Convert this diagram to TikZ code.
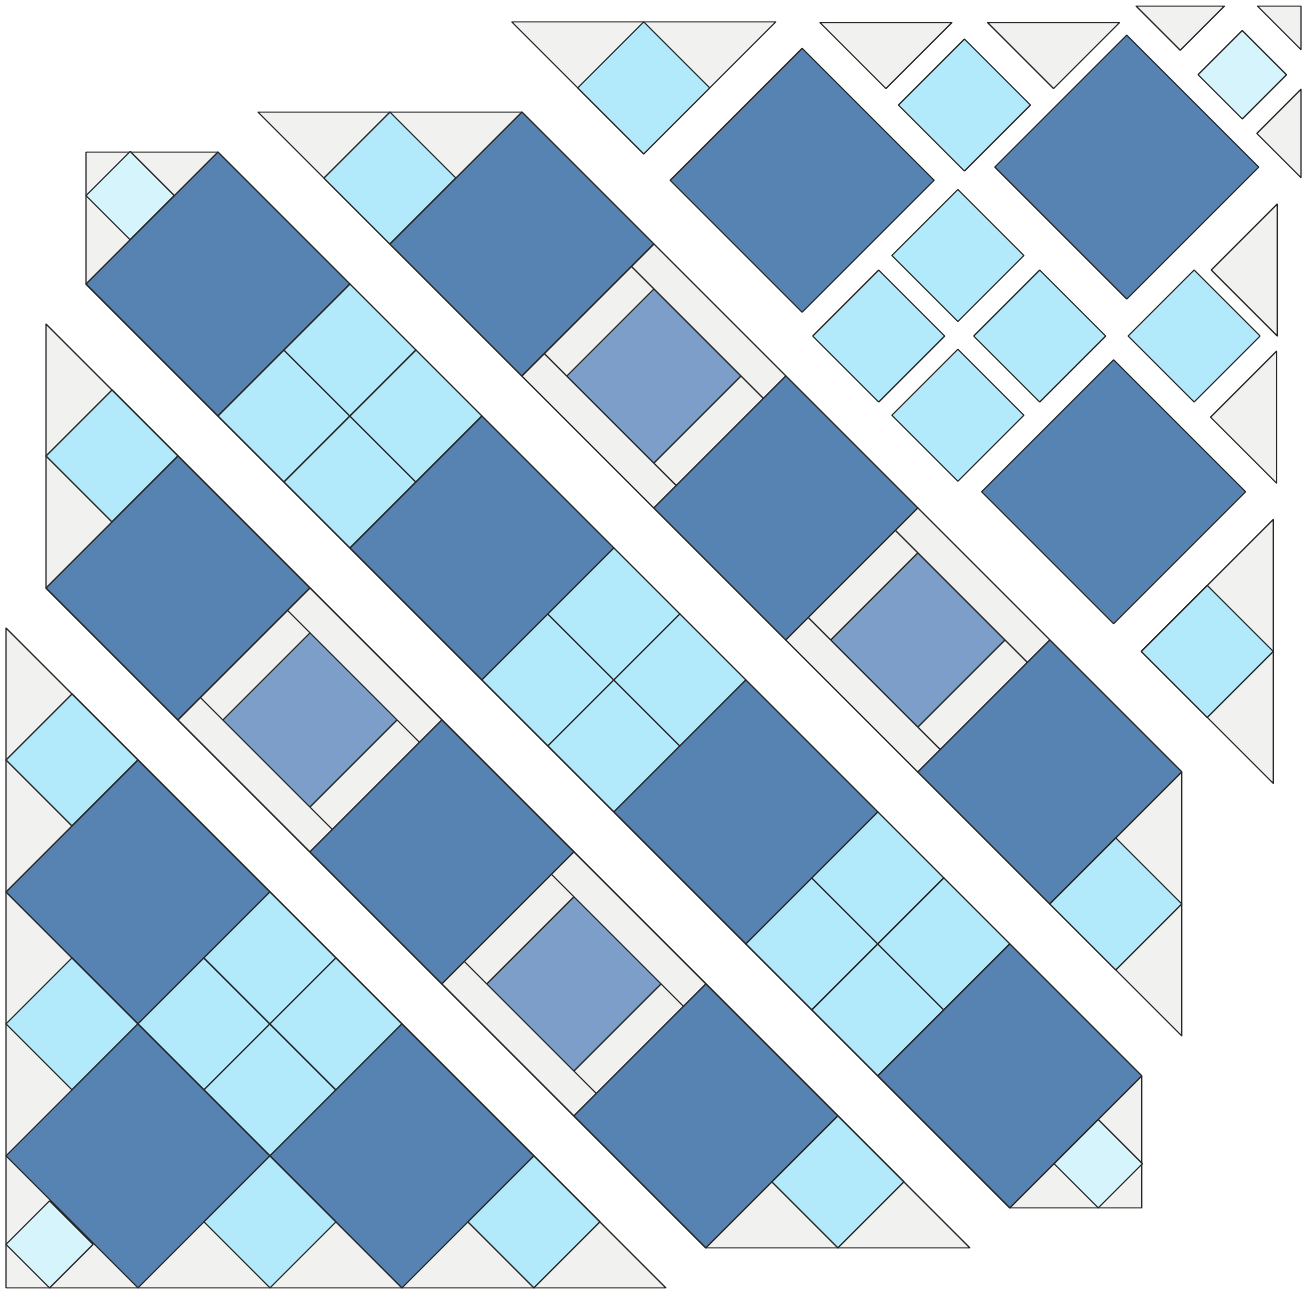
\documentclass[tikz,border=0pt]{standalone}
\usepackage{tikz}
\definecolor{quiltdark}{RGB}{87,131,178}
\definecolor{quiltlight}{RGB}{178,234,252}
\definecolor{quiltpale}{RGB}{214,244,252}
\definecolor{quiltmid}{RGB}{124,158,200}
\definecolor{quiltgray}{RGB}{241,241,240}
\newcommand{\blk}[4]{\draw[#1] (#2,#3) -- ++(#4,0) -- ++(0,#4) -- ++(-#4,0) -- cycle;}
\newcommand{\fourblk}[2]{\blk{lt}{#1}{#2}{1}\blk{lt}{#1+1}{#2}{1}\blk{lt}{#1}{#2+1}{1}\blk{lt}{#1+1}{#2+1}{1}}
\newcommand{\frameblk}[2]{\blk{bg}{#1}{#2}{2}\blk{md}{#1+0.34}{#2+0.34}{1.32}
  \draw[piece] (#1,#2+0.34) -- ++(0.34,0) (#1,#2+1.66) -- ++(0.34,0)
    (#1+1.66,#2+0.34) -- ++(0.34,0) (#1+1.66,#2+1.66) -- ++(0.34,0);}

\begin{document}
\begin{tikzpicture}[x=0.02cm,y=-0.02cm,
  piece/.style={draw=black!85,line width=0.65pt,line join=round},
  bg/.style={piece,fill=quiltgray},
  dk/.style={piece,fill=quiltdark},
  lt/.style={piece,fill=quiltlight},
  pl/.style={piece,fill=quiltpale},
  md/.style={piece,fill=quiltmid},
  diag/.style={x={(1.32cm,-1.32cm)},y={(1.32cm,1.32cm)}}]
\useasboundingbox (0,0) rectangle (1304,1291);

% bottom left corner row
\begin{scope}[shift={(6,628)},diag]
\draw[bg] (0,0) -- (10,0) -- (5,-5) -- cycle;
\blk{lt}{1}{-1}{1}\blk{dk}{2}{-2}{2}\fourblk{4}{-2}\blk{dk}{6}{-2}{2}\blk{lt}{8}{-1}{1}
\blk{lt}{3}{-3}{1}\blk{dk}{4}{-4}{2}\blk{lt}{6}{-3}{1}
\blk{pl}{4.67}{-4.67}{0.66}
\end{scope}

\begin{scope}[shift={(46,588)},diag]
\draw[bg] (-2,2) -- (12,2) -- (10,0) -- (0,0) -- cycle;
\blk{lt}{-1}{1}{1}
\blk{dk}{0}{0}{2}\frameblk{2}{0}\blk{dk}{4}{0}{2}\frameblk{6}{0}\blk{dk}{8}{0}{2}
\blk{lt}{10}{1}{1}
\end{scope}

% middle row
\begin{scope}[shift={(86,548)},diag]
\draw[bg] (-3,3) -- (-2,4) -- (12,4) -- (13,3) -- (12,2) -- (-2,2) -- cycle;
\blk{pl}{-2.67}{2.67}{0.67}
\blk{dk}{-2}{2}{2}\fourblk{0}{2}\blk{dk}{2}{2}{2}\fourblk{4}{2}\blk{dk}{6}{2}{2}\fourblk{8}{2}\blk{dk}{10}{2}{2}
\blk{pl}{12}{2.67}{0.67}
\end{scope}

\begin{scope}[shift={(126,508)},diag]
\draw[bg] (-2,4) -- (0,6) -- (10,6) -- (12,4) -- cycle;
\blk{lt}{-1}{4}{1}
\blk{dk}{0}{4}{2}\frameblk{2}{4}\blk{dk}{4}{4}{2}\frameblk{6}{4}\blk{dk}{8}{4}{2}
\blk{lt}{10}{4}{1}
\end{scope}

% top right corner, pieces apart
\begin{scope}[shift={(166,468)},diag]
\begin{scope}[shift={(-0.76,0)}]
\draw[bg] (0,6) -- (2,6) -- (2,8) -- cycle;
\blk{lt}{1}{6}{1}
\end{scope}
\begin{scope}[shift={(-0.36,0)}]\blk{dk}{2}{6}{2}\end{scope}
\begin{scope}[shift={(-0.1,-0.1)}]\blk{lt}{4}{6}{1}\end{scope}
\begin{scope}[shift={(0.1,-0.1)}]\blk{lt}{5}{6}{1}\end{scope}
\begin{scope}[shift={(-0.11,0.11)}]\blk{lt}{4}{7}{1}\end{scope}
\begin{scope}[shift={(0.12,0.12)}]\blk{lt}{5}{7}{1}\end{scope}
\begin{scope}[shift={(0.36,0)}]\blk{dk}{6}{6}{2}\end{scope}
\begin{scope}[shift={(0.78,0)}]
\draw[bg] (8,6) -- (10,6) -- (8,8) -- cycle;
\blk{lt}{8}{6}{1}
\end{scope}
\begin{scope}[shift={(-0.42,0.33)}]\draw[bg] (2,8) -- (3,8) -- (3,9) -- cycle;\end{scope}
\begin{scope}[shift={(-0.2,0.3)}]\blk{lt}{3}{8}{1}\end{scope}
\begin{scope}[shift={(-0.15,0.6)}]\draw[bg] (3,9) -- (4,9) -- (4,10) -- cycle;\end{scope}
\begin{scope}[shift={(0,0.56)}]\blk{dk}{4}{8}{2}\end{scope}
\begin{scope}[shift={(0.42,0.42)}]\draw[bg] (6,9) -- (7,9) -- (6,10) -- cycle;\end{scope}
\begin{scope}[shift={(0.29,0.29)}]\blk{lt}{6}{8}{1}\end{scope}
\begin{scope}[shift={(0.53,0.3)}]\draw[bg] (7,8) -- (8,8) -- (7,9) -- cycle;\end{scope}
\begin{scope}[shift={(-0.15,0.85)}]\draw[bg] (4,10) -- (4.67,10.67) -- (4.67,10) -- cycle;\end{scope}
\begin{scope}[shift={(0.17,0.8)}]\blk{pl}{4.67}{10}{0.67}\end{scope}
\begin{scope}[shift={(0.1,1.1)}]\draw[bg] (4.67,10.67) -- (5,11) -- (5.33,10.67) -- cycle;\end{scope}
\begin{scope}[shift={(0.4,0.8)}]\draw[bg] (5.33,10.67) -- (6,10) -- (5.33,10) -- cycle;\end{scope}
\end{scope}
\end{tikzpicture}
\end{document}
